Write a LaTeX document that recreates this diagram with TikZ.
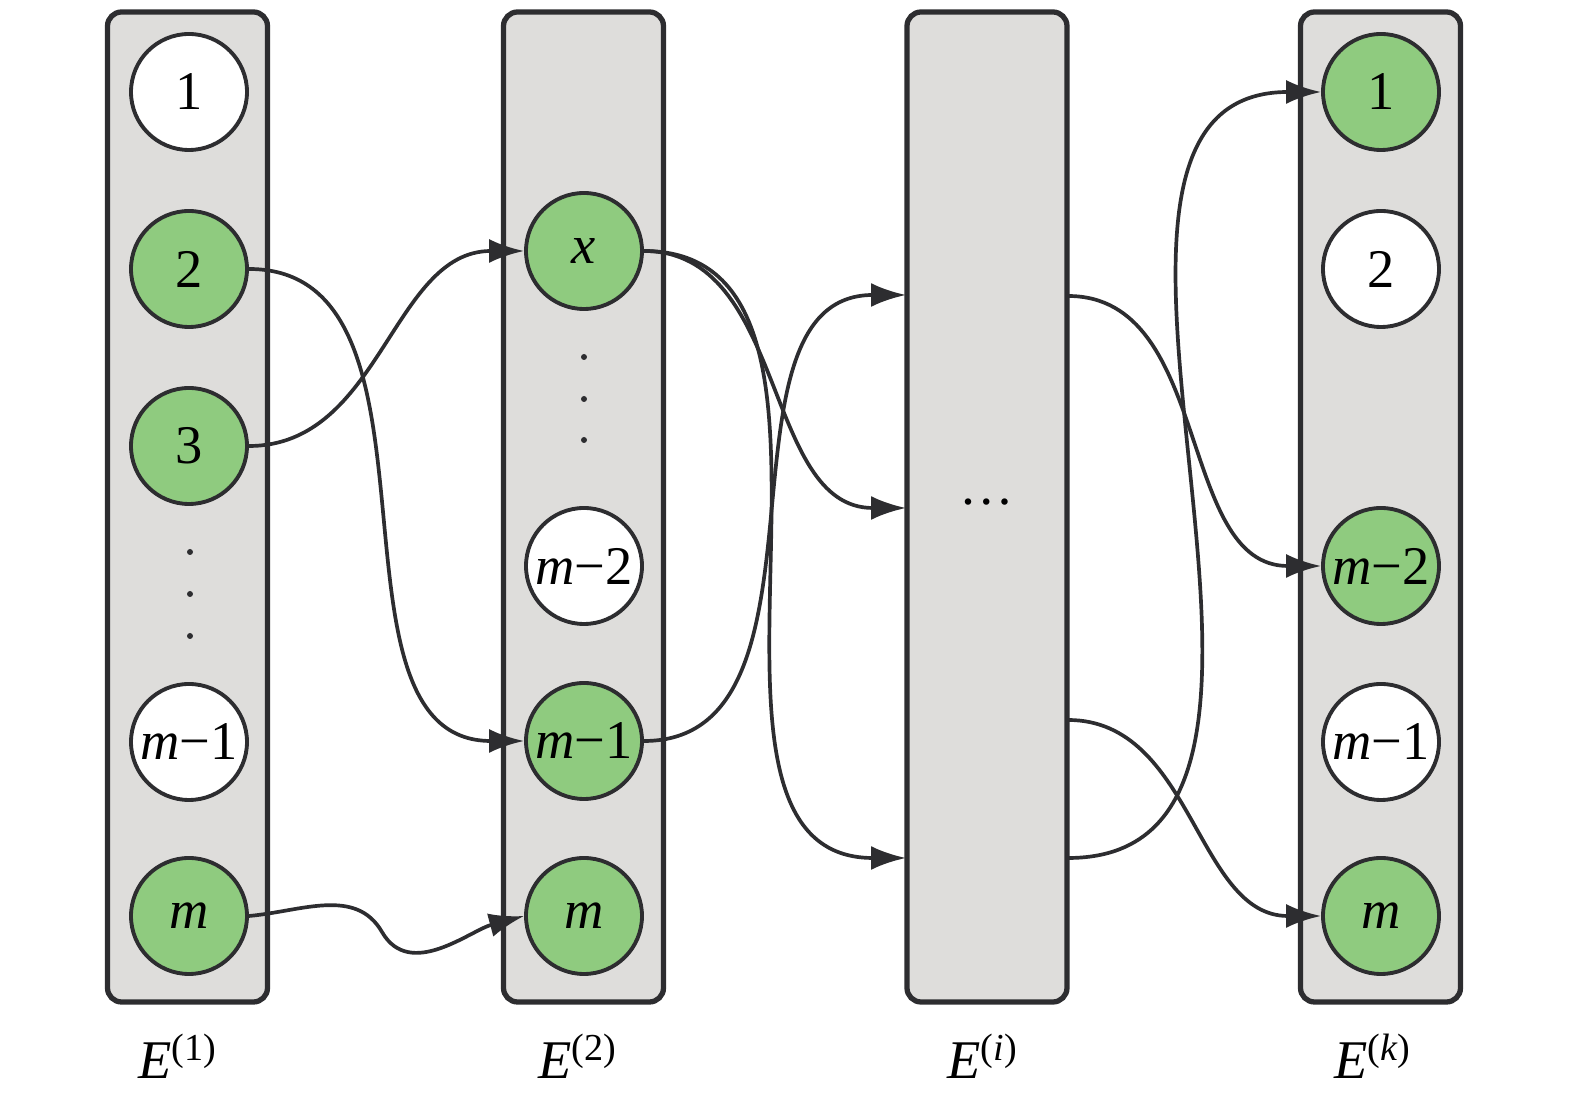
\documentclass[tikz,border=0pt]{standalone}
\usepackage{fontspec}
\setmainfont{Liberation Serif}
\usepackage{xcolor}
\usepackage{tikz}
\usetikzlibrary{arrows.meta}

\definecolor{colgray}{RGB}{222,221,219}
\definecolor{nodegreen}{RGB}{143,203,127}
\definecolor{edgedark}{RGB}{45,45,48}

\tikzset{
  column/.style={draw=edgedark, line width=1.5pt, fill=colgray, rounded corners=4pt,
    minimum width=1.6cm, minimum height=9.9cm, inner sep=0pt},
  elem/.style={circle, draw=edgedark, line width=1.1pt, fill=white, minimum size=1.16cm,
    inner sep=0pt, font=\fontsize{15.5}{18}\selectfont},
  chosen/.style={elem, fill=nodegreen},
  link/.style={draw=edgedark, line width=1.05pt, -{Latex[length=3.5mm,width=2.4mm]}},
  setlabel/.style={font=\fontsize{15.5}{18}\selectfont}
}

\begin{document}
\begin{tikzpicture}
\useasboundingbox (0,0) rectangle (15.75,-10.98);

% the four columns
\node[column] (colA) at (1.875,-5.07) {};
\node[column] (colB) at (5.835,-5.07) {};
\node[column] (colC) at (9.87,-5.07) {};
\node[column] (colD) at (13.805,-5.07) {};

% first column
\node[elem](a1) at (1.89,-0.92) {1};
\node[chosen](a2) at (1.89,-2.69) {2};
\node[chosen](a3) at (1.89,-4.46) {3};
\node[elem](a4) at (1.89,-7.42) {\textit{m}−1};
\node[chosen](a5) at (1.89,-9.16) {\textit{m}};
\foreach \y in {5.52,5.94,6.36}
  \fill[edgedark] (1.90,-\y) circle (0.03);

% second column
\node[chosen](b1) at (5.84,-2.51) {\textit{x}};
\node[elem](b3) at (5.84,-5.66) {\textit{m}−2};
\node[chosen](b4) at (5.84,-7.41) {\textit{m}−1};
\node[chosen](b5) at (5.84,-9.16) {\textit{m}};
\foreach \y in {3.57,3.99,4.40}
  \fill[edgedark] (5.84,-\y) circle (0.03);

% i-th column
\node(idots) at (9.87,-5.02) {\fontsize{15.5}{18}\selectfont\dots};
\coordinate (ciIn1) at (9.06,-2.95);
\coordinate (ciIn2) at (9.06,-5.08);
\coordinate (ciIn3) at (9.06,-8.58);
\coordinate (ciOut1) at (10.68,-2.96);
\coordinate (ciOut2) at (10.68,-7.20);
\coordinate (ciOut3) at (10.68,-8.58);

% last column
\node[chosen](d1) at (13.81,-0.92) {1};
\node[elem](d2) at (13.81,-2.69) {2};
\node[chosen](d3) at (13.81,-5.66) {\textit{m}−2};
\node[elem](d4) at (13.81,-7.42) {\textit{m}−1};
\node[chosen](d5) at (13.81,-9.16) {\textit{m}};

% labels
\node[setlabel](labA) at (1.78,-10.56) {\textit{E}\textsuperscript{(1)}};
\node[setlabel](labB) at (5.78,-10.56) {\textit{E}\textsuperscript{(2)}};
\node[setlabel](labC) at (9.83,-10.56) {\textit{E}\textsuperscript{(\textit{i})}};
\node[setlabel](labD) at (13.73,-10.56) {\textit{E}\textsuperscript{(\textit{k})}};

% connectors
\draw[link] (a2.east) to[out=0,in=180] (b4.west);
\draw[link] (a3.east) to[out=0,in=180] (b1.west);
\coordinate (mbend) at (3.82,-9.32);
\draw[link] (a5.east) to[out=5,in=120] (mbend) to[out=-60,in=195] (b5.west);

\draw[link] (b1.east) to[out=0,in=180] (ciIn2);
\draw[link] (b1.east) to[out=0,in=180] (ciIn3);
\draw[link] (b4.east) to[out=0,in=180] (ciIn1);

\draw[link] (ciOut1) to[out=0,in=180] (d3.west);
\draw[link] (ciOut2) to[out=0,in=180] (d5.west);
\draw[link] (ciOut3) to[out=0,in=180] (d1.west);
\end{tikzpicture}
\end{document}
